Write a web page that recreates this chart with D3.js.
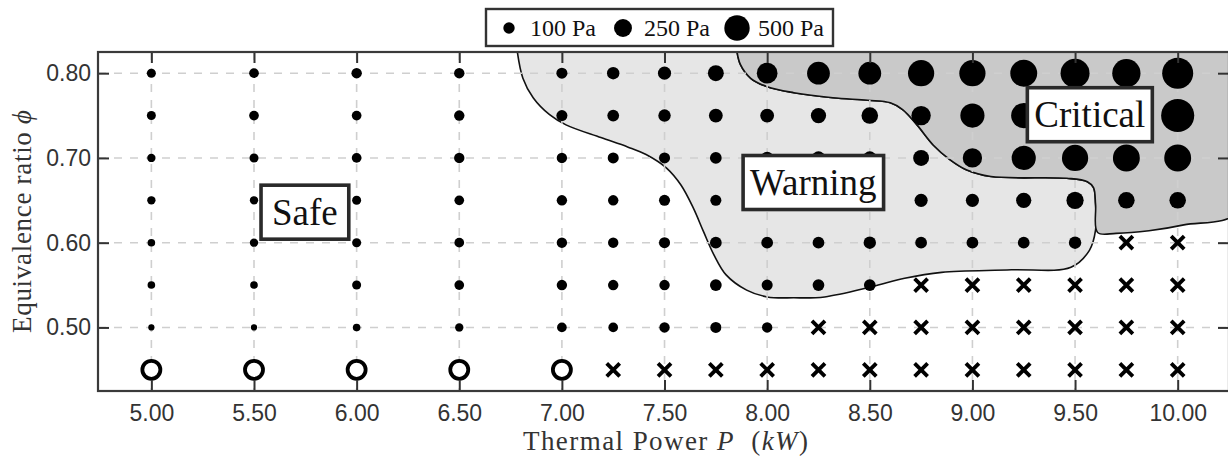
<!DOCTYPE html>
<html>
<head>
<meta charset="utf-8">
<script src="https://cdn.jsdelivr.net/npm/d3@7"></script>
<style>
body { margin: 0; background: #fff; }
svg { display: block; }
</style>
</head>
<body>
<svg id="chart" width="1228" height="459"></svg>
<script>
// operating points
var powers = [5.00, 5.50, 6.00, 6.50, 7.00, 7.25, 7.50, 7.75, 8.00, 8.25, 8.50, 8.75, 9.00, 9.25, 9.50, 9.75, 10.00];
var phis = [0.80, 0.75, 0.70, 0.65, 0.60, 0.55, 0.50, 0.45];

// pressure amplitude (Pa) per phi row, one value per power column
// "x" = cross marker, "o" = open circle marker
var amp080 = [63, 73, 84, 84, 95, 120, 134, 196, 333, 402, 402, 533, 533, 561, 651, 620, 747];
var amp075 = [63, 73, 73, 84, 95, 107, 120, 148, 148, 180, 213, 290, 452, 492, 533, 561, 850];
var amp070 = [54, 63, 73, 84, 84, 95, 95, 107, 120, 134, 134, 196, 290, 452, 533, 561, 561];
var amp065 = [54, 54, 63, 73, 84, 84, 95, 95, 107, 120, 120, 134, 134, 180, 230, 213, 213];
var amp060 = [45, 54, 63, 73, 84, 84, 95, 107, 107, 107, 120, 107, 107, 107, 120, "x", "x"];
var amp055 = [45, 45, 63, 73, 84, 84, 84, 107, 95, 107, 107, "x", "x", "x", "x", "x", "x"];
var amp050 = [30, 30, 45, 54, 73, 73, 84, 95, 84, "x", "x", "x", "x", "x", "x", "x", "x"];
var amp045 = ["o", "o", "o", "o", "o", "x", "x", "x", "x", "x", "x", "x", "x", "x", "x", "x", "x"];
var ampRows = [amp080, amp075, amp070, amp065, amp060, amp055, amp050, amp045];

var xTicks = [5.0, 5.5, 6.0, 6.5, 7.0, 7.5, 8.0, 8.5, 9.0, 9.5, 10.0];
var yTicks = [0.50, 0.60, 0.70, 0.80];
var legendPa = [100, 250, 500];

// region outlines [P, phi]
var warningEdge = [
    [6.78, 0.830], [6.81, 0.794], [6.86, 0.771], [6.94, 0.751], [7.02, 0.739],
    [7.19, 0.724], [7.32, 0.713], [7.41, 0.704], [7.51, 0.688], [7.58, 0.668],
    [7.64, 0.641], [7.69, 0.613], [7.74, 0.586], [7.80, 0.562], [7.90, 0.544],
    [8.00, 0.536], [8.13, 0.535], [8.28, 0.536], [8.51, 0.548], [8.67, 0.558],
    [8.85, 0.565], [9.19, 0.568], [9.48, 0.571], [9.57, 0.591], [9.60, 0.615],
    [9.60, 0.645], [9.59, 0.665], [9.56, 0.672], [9.46, 0.676], [9.09, 0.678],
    [8.97, 0.686], [8.89, 0.698], [8.81, 0.715], [8.73, 0.739], [8.66, 0.757],
    [8.60, 0.765], [8.49, 0.768], [8.32, 0.771], [8.13, 0.777], [8.00, 0.784],
    [7.92, 0.794], [7.87, 0.810], [7.85, 0.830]
];
var criticalEdge = [
    [7.85, 0.830], [7.87, 0.810], [7.92, 0.794], [8.00, 0.784], [8.13, 0.777],
    [8.32, 0.771], [8.49, 0.768], [8.60, 0.765], [8.66, 0.757], [8.73, 0.739],
    [8.81, 0.715], [8.89, 0.698], [8.97, 0.686], [9.09, 0.678], [9.46, 0.676],
    [9.56, 0.672], [9.59, 0.665], [9.60, 0.645], [9.61, 0.612], [9.70, 0.611],
    [9.86, 0.614], [10.03, 0.621], [10.30, 0.638], [10.30, 0.830]
];

var regionNames = ["Safe", "Warning", "Critical"];
var regionAt = [[5.748, 0.636], [8.225, 0.671], [9.572, 0.751]];


function DrawChart() {
    var svg = d3.select("#chart");
    var pLeft = 98, pRight = 1229, pTop = 52, pBottom = 391;

    var x = d3.scaleLinear().domain([4.74, 10.25]).range([pLeft, pRight]);
    var y = d3.scaleLinear().domain([0.425, 0.825]).range([pBottom, pTop]);
    var r = d3.scaleSqrt().domain([0, 500]).range([0, 12.7]);

    svg.append("defs").append("clipPath").attr("id", "plotClip")
        .append("rect")
        .attr("x", pLeft).attr("y", pTop)
        .attr("width", pRight - pLeft).attr("height", pBottom - pTop);

    var plot = svg.append("g").attr("clip-path", "url(#plotClip)");

    var regionLine = d3.line()
        .x(function(d) { return x(d[0]); })
        .y(function(d) { return y(d[1]); })
        .curve(d3.curveCatmullRom.alpha(0.5));

    plot.append("path")
        .attr("d", regionLine(warningEdge) + "Z")
        .attr("fill", "#e6e6e6")
        .attr("stroke", "#111")
        .attr("stroke-width", 1.6);

    plot.append("path")
        .attr("d", regionLine(criticalEdge) + "Z")
        .attr("fill", "#c9c9c9")
        .attr("stroke", "#111")
        .attr("stroke-width", 1.6);

    // dashed grid
    plot.selectAll("line.gx").data(xTicks).enter().append("line")
        .attr("class", "gx")
        .attr("x1", function(d) { return x(d); }).attr("x2", function(d) { return x(d); })
        .attr("y1", pTop).attr("y2", pBottom)
        .attr("stroke", "#cfcfcf").attr("stroke-width", 1.6)
        .attr("stroke-dasharray", "8,8");

    plot.selectAll("line.gy").data(yTicks).enter().append("line")
        .attr("class", "gy")
        .attr("y1", function(d) { return y(d); }).attr("y2", function(d) { return y(d); })
        .attr("x1", pLeft).attr("x2", pRight)
        .attr("stroke", "#cfcfcf").attr("stroke-width", 1.6)
        .attr("stroke-dasharray", "8,8");

    // markers
    var points = [];
    phis.forEach(function(phi, i) {
        powers.forEach(function(p, j) {
            points.push({P: p, phi: phi, v: ampRows[i][j]});
        });
    });

    var marks = plot.selectAll("g.pt").data(points).enter().append("g")
        .attr("class", "pt")
        .attr("transform", function(d) { return "translate(" + x(d.P) + "," + y(d.phi) + ")"; });

    marks.each(function(d) {
        var g = d3.select(this);
        if (d.v === "x") {
            g.append("path")
                .attr("d", "M-6.5,-6.5L6.5,6.5M-6.5,6.5L6.5,-6.5")
                .attr("stroke", "#000").attr("stroke-width", 3.8)
                .attr("fill", "none");
        } else if (d.v === "o") {
            g.append("circle")
                .attr("r", 9)
                .attr("fill", "#fff")
                .attr("stroke", "#000").attr("stroke-width", 3.8);
        } else {
            g.append("circle")
                .attr("r", r(d.v))
                .attr("fill", "#000");
        }
    });

    // axes with inward ticks
    function styleAxis(g) {
        g.select(".domain").remove();
        g.selectAll(".tick line").attr("stroke", "#333").attr("stroke-width", 2);
        g.selectAll(".tick text")
            .attr("fill", "#333")
            .style("font-family", "'Liberation Sans', Arial, sans-serif")
            .style("font-size", "23px");
    }

    svg.append("g")
        .attr("transform", "translate(0," + pBottom + ")")
        .call(d3.axisBottom(x).tickValues(xTicks).tickFormat(d3.format(".2f"))
            .tickSizeInner(-11).tickSizeOuter(0).tickPadding(14))
        .call(styleAxis);

    svg.append("g")
        .attr("transform", "translate(0," + pTop + ")")
        .call(d3.axisTop(x).tickValues(xTicks).tickFormat("")
            .tickSizeInner(-11).tickSizeOuter(0))
        .call(styleAxis);

    svg.append("g")
        .attr("transform", "translate(" + pLeft + ",0)")
        .call(d3.axisLeft(y).tickValues(yTicks).tickFormat(d3.format(".2f"))
            .tickSizeInner(-11).tickSizeOuter(0).tickPadding(7))
        .call(styleAxis);

    svg.append("g")
        .attr("transform", "translate(" + pRight + ",0)")
        .call(d3.axisRight(y).tickValues(yTicks).tickFormat("")
            .tickSizeInner(-11).tickSizeOuter(0))
        .call(styleAxis);

    // frame
    svg.append("rect")
        .attr("x", pLeft).attr("y", pTop)
        .attr("width", pRight - pLeft).attr("height", pBottom - pTop)
        .attr("fill", "none")
        .attr("stroke", "#3a3a3a").attr("stroke-width", 2.2);

    // region labels
    var serif = "'Liberation Serif', 'Times New Roman', serif";
    regionNames.forEach(function(name, i) {
        var cx = x(regionAt[i][0]), cy = y(regionAt[i][1]);
        var g = svg.append("g");
        var box = g.append("rect");
        var t = g.append("text")
            .attr("x", cx).attr("y", cy + 12.5)
            .attr("text-anchor", "middle")
            .style("font-family", serif)
            .style("font-size", "37px")
            .attr("fill", "#111")
            .text(name);
        var w = t.node().getComputedTextLength() + (i === 0 ? 22 : 14);
        box.attr("x", cx - w / 2).attr("y", cy - 27)
            .attr("width", w).attr("height", 54)
            .attr("fill", "#fff")
            .attr("stroke", "#2a2a2a").attr("stroke-width", 3.6);
    });

    // axis titles
    svg.append("text")
        .attr("transform", "translate(31," + ((pTop + pBottom) / 2) + ") rotate(-90)")
        .attr("text-anchor", "middle")
        .attr("textLength", 223).attr("lengthAdjust", "spacing")
        .style("font-family", serif).style("font-size", "27px")
        .attr("fill", "#333")
        .call(function(t) {
            t.append("tspan").text("Equivalence ratio ");
            t.append("tspan").style("font-style", "italic").text("\u03D5");
        });

    svg.append("text")
        .attr("x", (pLeft + pRight) / 2 + 2).attr("y", 450)
        .attr("text-anchor", "middle")
        .attr("textLength", 285).attr("lengthAdjust", "spacing")
        .style("font-family", serif).style("font-size", "27px")
        .attr("fill", "#333")
        .call(function(t) {
            t.append("tspan").text("Thermal Power ");
            t.append("tspan").style("font-style", "italic").text("P");
            t.append("tspan").text("\u00A0\u00A0(");
            t.append("tspan").style("font-style", "italic").text("kW");
            t.append("tspan").text(")");
        });

    // legend
    var legend = svg.append("g");
    legend.append("rect")
        .attr("x", 486).attr("y", 9)
        .attr("width", 347).attr("height", 37)
        .attr("fill", "#fff")
        .attr("stroke", "#333").attr("stroke-width", 2.4);

    var legX = [509, 623, 737];
    legendPa.forEach(function(p, i) {
        legend.append("circle")
            .attr("cx", legX[i]).attr("cy", 28)
            .attr("r", r(p))
            .attr("fill", "#000");
        legend.append("text")
            .attr("x", legX[i] + 21).attr("y", 36)
            .style("font-family", serif).style("font-size", "24px")
            .attr("fill", "#111")
            .text(p + " Pa");
    });
}

DrawChart();
</script>
</body>
</html>
